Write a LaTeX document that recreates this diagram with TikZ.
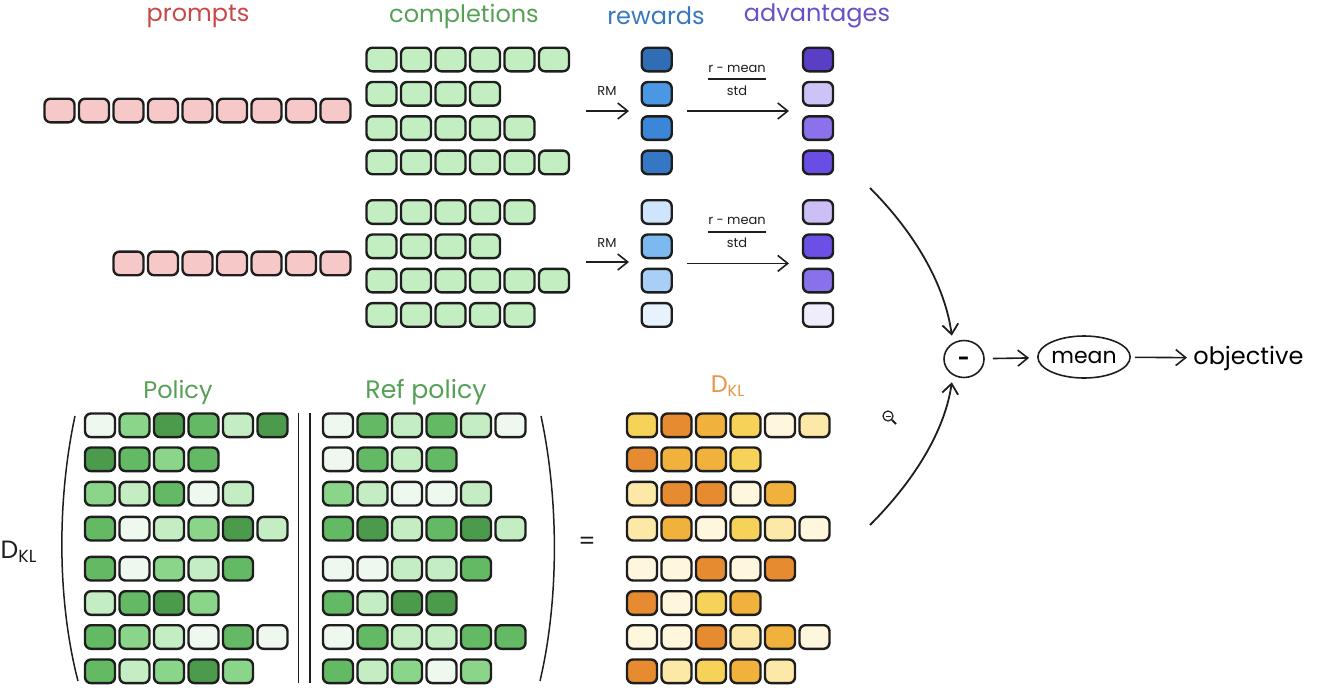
\documentclass[tikz,border=0pt]{standalone}
\usepackage{fontspec}
\setmainfont{Poppins}
\usetikzlibrary{arrows.meta,calc,shapes.geometric}

\definecolor{ink}{HTML}{1E1E1E}
\definecolor{pk}{HTML}{F7C8C8}
\definecolor{gc}{HTML}{C2EEC2}
\definecolor{redT}{HTML}{C84848}
\definecolor{greenT}{HTML}{55A055}
\definecolor{blueT}{HTML}{3778BE}
\definecolor{purpT}{HTML}{6950C8}
\definecolor{orT}{HTML}{E69646}
% rewards
\definecolor{ra}{HTML}{2F6DB5}\definecolor{rb}{HTML}{4A97E3}
\definecolor{rc}{HTML}{3B86D6}\definecolor{rd}{HTML}{3677C5}
\definecolor{re}{HTML}{CFE5FB}\definecolor{rf}{HTML}{7CB9F0}
\definecolor{rg}{HTML}{A8D0F6}\definecolor{rh}{HTML}{E8F2FD}
% advantages
\definecolor{aa}{HTML}{5A3EC6}\definecolor{ab}{HTML}{CEC3F6}
\definecolor{ac}{HTML}{8B72EC}\definecolor{ad}{HTML}{6A4DE2}
\definecolor{ae}{HTML}{CBBFF6}\definecolor{af}{HTML}{6C4FE4}
\definecolor{ag}{HTML}{8A71EC}\definecolor{ah}{HTML}{EFECFC}
% greens
\definecolor{g0}{HTML}{EEF8EE}\definecolor{g1}{HTML}{C4EDC4}
\definecolor{g2}{HTML}{8AD58A}\definecolor{g3}{HTML}{64BA64}
\definecolor{g4}{HTML}{4C9B4C}
% oranges
\definecolor{o0}{HTML}{FFF6DE}\definecolor{o1}{HTML}{FCE9A8}
\definecolor{o2}{HTML}{F6D258}\definecolor{o3}{HTML}{F0B23D}
\definecolor{o4}{HTML}{E68B2F}

\newcommand\cellrow[4]{%
  \foreach \cc [count=\ii] in {#4}
    \node[cell, fill=\cc] (#1-\ii) at ({#2+(\ii-1)*34.5},#3) {};}

\begin{document}
\begin{tikzpicture}[x=0.5pt,y=-0.5pt,
  cell/.style={draw=ink, line width=1.2pt, rounded corners=3pt, minimum width=15pt,
               minimum height=11.8pt, inner sep=0pt, outer sep=0pt},
  hdr/.style={font=\fontsize{12}{14}\selectfont, inner sep=0pt},
  lbl/.style={font=\fontsize{6.5}{8}\selectfont, text=ink, inner sep=0pt},
  arr/.style={draw=ink, line width=0.8pt, -{Straight Barb[length=5pt,width=8pt]}},
  bar/.style={draw=ink, line width=0.75pt}
]
\useasboundingbox (0,0) rectangle (1317,687);

% headers
\node[hdr, text=redT] (hPrompts) at (198,16) {prompts};
\node[hdr, text=greenT] (hCompl) at (464,16) {completions};
\node[hdr, text=blueT] (hRew) at (656,16) {rewards};
\node[hdr, text=purpT] (hAdv) at (817,16) {advantages};

% prompts
\cellrow{pA}{59.5}{110.5}{pk,pk,pk,pk,pk,pk,pk,pk,pk}
\cellrow{pB}{128.5}{263.4}{pk,pk,pk,pk,pk,pk,pk}

% completions group 1
\cellrow{cA1}{381.5}{59.5}{gc,gc,gc,gc,gc,gc}
\cellrow{cA2}{381.5}{93.8}{gc,gc,gc,gc}
\cellrow{cA3}{381.5}{128.1}{gc,gc,gc,gc,gc}
\cellrow{cA4}{381.5}{162.4}{gc,gc,gc,gc,gc,gc}
% completions group 2
\cellrow{cB1}{381.5}{212}{gc,gc,gc,gc,gc}
\cellrow{cB2}{381.5}{246.3}{gc,gc,gc,gc}
\cellrow{cB3}{381.5}{280.6}{gc,gc,gc,gc,gc,gc}
\cellrow{cB4}{381.5}{314.9}{gc,gc,gc,gc,gc}

% rewards
\node[cell, fill=ra] (rA1) at (656.7,59.5) {};
\node[cell, fill=rb] (rA2) at (656.7,93.8) {};
\node[cell, fill=rc] (rA3) at (656.7,128.1) {};
\node[cell, fill=rd] (rA4) at (656.7,162.4) {};
\node[cell, fill=re] (rB1) at (656.7,212) {};
\node[cell, fill=rf] (rB2) at (656.7,246.3) {};
\node[cell, fill=rg] (rB3) at (656.7,280.6) {};
\node[cell, fill=rh] (rB4) at (656.7,314.9) {};

% advantages
\node[cell, fill=aa] (aA1) at (818,59.5) {};
\node[cell, fill=ab] (aA2) at (818,93.8) {};
\node[cell, fill=ac] (aA3) at (818,128.1) {};
\node[cell, fill=ad] (aA4) at (818,162.4) {};
\node[cell, fill=ae] (aB1) at (818,212) {};
\node[cell, fill=af] (aB2) at (818,246.3) {};
\node[cell, fill=ag] (aB3) at (818,280.6) {};
\node[cell, fill=ah] (aB4) at (818,314.9) {};

% RM arrows and normalisation arrows
\coordinate (rmA0) at (586,111);  \coordinate (rmA1) at (629,111);
\coordinate (rmB0) at (586,262);  \coordinate (rmB1) at (629,262);
\draw[arr] (rmA0) -- (rmA1);
\draw[arr] (rmB0) -- (rmB1);
\node[lbl] (rmLA) at (607,91) {RM};
\node[lbl] (rmLB) at (607,243) {RM};

\coordinate (nA0) at (687,111); \coordinate (nA1) at (789,111);
\coordinate (nB0) at (687,263.4); \coordinate (nB1) at (789,263.4);
\draw[arr] (nA0) -- (nA1);
\draw[arr] (nB0) -- (nB1);
\node[lbl] (fnA) at (737,68.5) {r - mean};
\node[lbl] (fdA) at (737,90.5) {std};
\coordinate (flA0) at (708,79); \coordinate (flA1) at (766,79);
\draw[bar] (flA0) -- (flA1);
\node[lbl] (fnB) at (737,220.5) {r - mean};
\node[lbl] (fdB) at (737,243) {std};
\coordinate (flB0) at (708,232); \coordinate (flB1) at (766,232);
\draw[bar] (flB0) -- (flB1);

% bottom headers
\node[hdr, text=greenT] (hPol) at (178,392) {Policy};
\node[hdr, text=greenT, font=\fontsize{12.6}{14}\selectfont] (hRef) at (426,392) {Ref policy};
\node[hdr, text=orT] (hKL) at (728,386) {D\textsubscript{KL}};
\node[hdr, text=ink, font=\fontsize{12.5}{14}\selectfont] (kLeft) at (19,552) {D\textsubscript{KL}};
\node[hdr, text=ink] (eqs) at (587,543) {=};

% policy
\cellrow{po1}{100}{425.3}{g0,g2,g4,g3,g1,g4}
\cellrow{po2}{100}{459.3}{g4,g3,g2,g3}
\cellrow{po3}{100}{493.7}{g2,g1,g3,g0,g1}
\cellrow{po4}{100}{528.7}{g3,g0,g1,g2,g4,g1}
\cellrow{po5}{100}{568.7}{g3,g0,g2,g1,g3}
\cellrow{po6}{100}{603}{g1,g3,g4,g2}
\cellrow{po7}{100}{637}{g3,g2,g1,g0,g3,g0}
\cellrow{po8}{100}{671.3}{g3,g1,g2,g4,g2}

% ref policy
\cellrow{rf1}{338}{425.3}{g0,g3,g1,g3,g1,g0}
\cellrow{rf2}{338}{459.3}{g0,g3,g1,g3}
\cellrow{rf3}{338}{493.7}{g2,g1,g0,g0,g1}
\cellrow{rf4}{338}{528.7}{g3,g4,g1,g3,g4,g1}
\cellrow{rf5}{338}{568.7}{g0,g0,g1,g1,g3}
\cellrow{rf6}{338}{603}{g3,g1,g4,g4}
\cellrow{rf7}{338}{637}{g0,g3,g1,g1,g3,g3}
\cellrow{rf8}{338}{671.3}{g3,g1,g2,g0,g2}

% KL
\cellrow{kl1}{642}{425.3}{o2,o4,o3,o2,o0,o1}
\cellrow{kl2}{642}{459.3}{o4,o3,o3,o2}
\cellrow{kl3}{642}{493.7}{o1,o4,o4,o0,o3}
\cellrow{kl4}{642}{528.7}{o1,o3,o0,o2,o1,o0}
\cellrow{kl5}{642}{568.7}{o0,o0,o4,o0,o4}
\cellrow{kl6}{642}{603}{o4,o0,o2,o3}
\cellrow{kl7}{642}{637}{o0,o0,o4,o1,o3,o0}
\cellrow{kl8}{642}{671.3}{o4,o1,o2,o3,o1}

% brackets and divider
\draw[bar] (75,416) .. controls (57,500) and (57,600) .. (78,681);
\draw[bar] (541,416) .. controls (559,500) and (559,600) .. (540,681);
\draw[bar] (298.5,413) -- (298.5,683);
\draw[bar] (310,413) -- (310,683);

% right part
\node[ellipse, draw=ink, line width=0.8pt, minimum width=20pt, minimum height=18.5pt,
      inner sep=0pt] (minus) at (964,359) {};
\node[font=\bfseries\fontsize{10}{10}\selectfont, inner sep=0pt, yshift=-1.2pt] (minusT) at (minus) {-};
\node[ellipse, draw=ink, line width=0.8pt, minimum width=40pt, minimum height=21pt,
      inner sep=0pt, font=\fontsize{11}{12}\selectfont] (mean) at (1084,357) {mean};
\node[font=\fontsize{12}{14}\selectfont, inner sep=2pt, anchor=west] (obj) at (1189,358) {objective};

\coordinate (advOut) at (870,188);
\coordinate (klOut) at (870,525);
\draw[arr, line width=0.9pt] (advOut) .. controls (915,233) and (945,285) .. ($(minus.118)+(-3,-6)$);
\draw[arr, line width=0.9pt] (klOut) .. controls (915,480) and (945,430) .. ($(minus.242)+(-3,6)$);
\draw[arr, shorten <=4pt, shorten >=4pt] (minus) -- (mean);
\draw[arr, shorten <=2pt, shorten >=1pt] (mean) -- (obj);

% magnifier cursor
\node[circle, draw=ink, line width=0.6pt, minimum size=5pt, inner sep=0pt] (mag) at (888,416) {};
\coordinate (magH) at (896,424);
\draw[ink, line width=0.9pt] (mag.-45) -- (magH);
\draw[ink, line width=0.5pt] (885.5,416) -- (890.5,416);
\end{tikzpicture}
\end{document}
